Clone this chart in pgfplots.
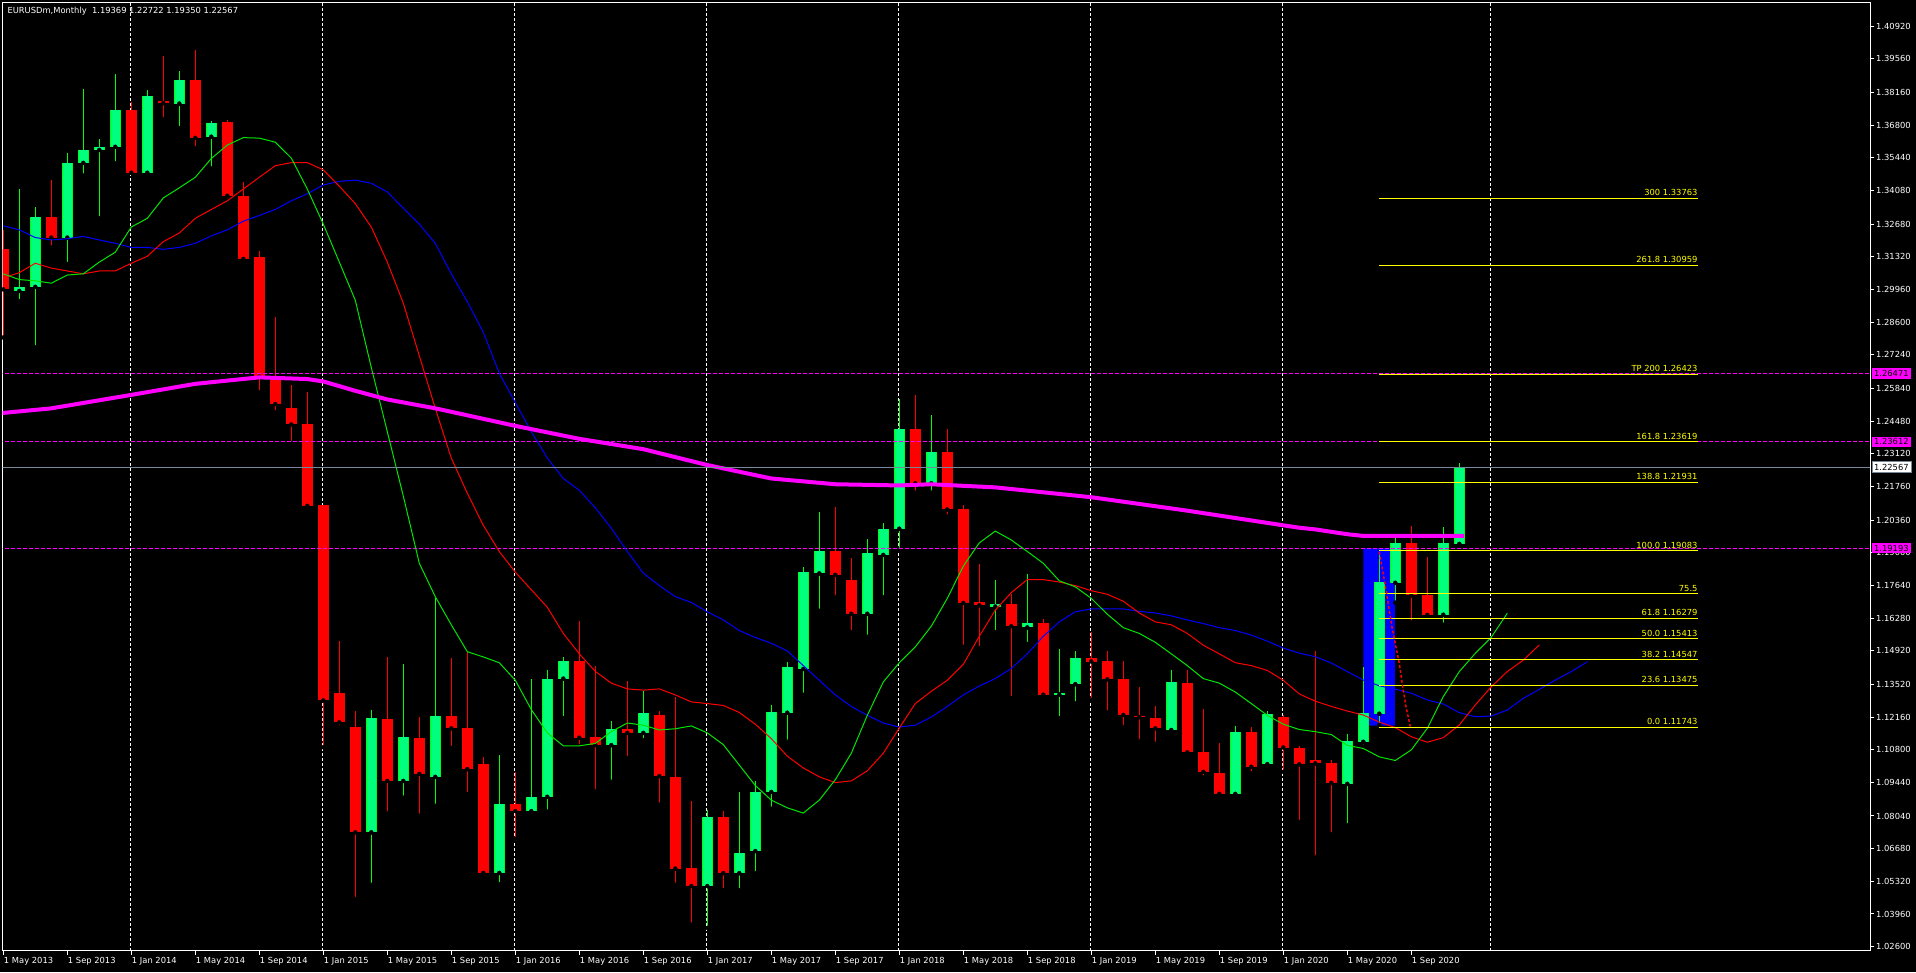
\documentclass[border=0pt]{standalone}
\usepackage{pgfplots}
\usepackage{pgfplotstable}
\pgfplotsset{compat=1.18}
\usetikzlibrary{backgrounds}
\usepackage{fontspec}
\setmainfont{DejaVu Sans}
\newcommand\lbl{\fontsize{8.35}{10}\selectfont}
\definecolor{bullbody}{RGB}{0,255,127}
\definecolor{bullline}{RGB}{0,255,0}
\definecolor{bear}{RGB}{255,0,0}
\definecolor{mag}{RGB}{255,0,255}
\definecolor{fib}{RGB}{255,255,0}
\definecolor{pricegrey}{RGB}{119,136,153}
\definecolor{lips}{RGB}{0,230,0}
\definecolor{teeth}{RGB}{255,0,0}
\definecolor{jaw}{RGB}{0,0,255}
\definecolor{rectblue}{RGB}{0,0,255}

\pgfplotstableread{
i o h l c
1 1.2990 1.3415 1.2947 1.3007
2 1.3007 1.3338 1.2755 1.3298
4 1.3212 1.3566 1.3102 1.3523
5 1.3523 1.3830 1.3470 1.3577
6 1.3577 1.3623 1.3292 1.3590
7 1.3590 1.3891 1.3521 1.3743
9 1.3482 1.3826 1.3475 1.3801
11 1.3770 1.3905 1.3667 1.3866
13 1.3632 1.3698 1.3499 1.3688
23 1.0736 1.1246 1.0517 1.1210
25 1.0950 1.1435 1.0880 1.1133
27 1.0967 1.1713 1.0846 1.1222
31 1.0567 1.1059 1.0519 1.0855
33 1.0824 1.1373 1.0822 1.0884
34 1.0884 1.1410 1.0822 1.1376
35 1.1376 1.1466 1.1211 1.1448
38 1.1099 1.1198 1.0946 1.1167
40 1.1150 1.1325 1.1119 1.1232
44 1.0512 1.0829 1.0338 1.0800
46 1.0566 1.0904 1.0494 1.0650
47 1.0658 1.0950 1.0566 1.0904
48 1.0904 1.1266 1.0834 1.1236
49 1.1234 1.1444 1.1113 1.1424
50 1.1416 1.1841 1.1308 1.1821
51 1.1814 1.2070 1.1658 1.1909
54 1.1646 1.1958 1.1550 1.1899
55 1.1891 1.2024 1.1714 1.2000
56 1.2000 1.2538 1.1912 1.2415
58 1.2189 1.2473 1.2150 1.2319
62 1.1676 1.1788 1.1569 1.1688
64 1.1589 1.1813 1.1520 1.1606
66 1.1309 1.1500 1.1211 1.1314
67 1.1353 1.1489 1.1273 1.1462
73 1.1162 1.1412 1.1159 1.1361
77 1.0896 1.1178 1.0879 1.1155
79 1.1020 1.1240 1.1004 1.1228
84 1.0938 1.1145 1.0765 1.1116
85 1.1113 1.1425 1.1093 1.1231
86 1.1230 1.1905 1.1183 1.1778
87 1.1775 1.1961 1.1692 1.1939
90 1.1642 1.2007 1.1600 1.1939
91 1.19369 1.22722 1.19350 1.22567
}\bull

\pgfplotstableread{
i o h l c
0 1.3165 1.3242 1.2796 1.2996
3 1.3298 1.3451 1.3170 1.3212
8 1.3743 1.3775 1.3482 1.3482
10 1.3782 1.3968 1.3704 1.3772
12 1.3866 1.3993 1.3584 1.3627
14 1.3693 1.3703 1.3366 1.3386
15 1.3386 1.3443 1.3123 1.3123
16 1.3130 1.3158 1.2567 1.2633
17 1.2618 1.2882 1.2485 1.2519
18 1.2502 1.2599 1.2357 1.2434
19 1.2437 1.2570 1.2095 1.2095
20 1.2100 1.2100 1.1090 1.1285
21 1.1316 1.1532 1.1172 1.1194
22 1.1176 1.1240 1.0458 1.0736
24 1.1208 1.1466 1.0814 1.0950
26 1.1128 1.1216 1.0805 1.0979
28 1.1222 1.1460 1.1087 1.1169
29 1.1169 1.1490 1.0895 1.0999
30 1.1021 1.1050 1.0555 1.0567
32 1.0855 1.0985 1.0708 1.0824
36 1.1451 1.1616 1.1094 1.1130
37 1.1133 1.1429 1.0906 1.1099
39 1.1167 1.1364 1.1045 1.1150
41 1.1223 1.1241 1.0851 1.0970
42 1.0967 1.1300 1.0517 1.0585
43 1.0589 1.0865 1.0352 1.0512
45 1.0800 1.0826 1.0494 1.0566
52 1.1909 1.2092 1.1714 1.1808
53 1.1788 1.1880 1.1569 1.1646
57 1.2415 1.2555 1.2150 1.2189
59 1.2319 1.2413 1.2051 1.2080
60 1.2080 1.2097 1.1508 1.1691
61 1.1693 1.1852 1.1503 1.1681
63 1.1688 1.1730 1.1295 1.1594
65 1.1606 1.1622 1.1297 1.1309
68 1.1462 1.1570 1.1287 1.1447
69 1.1449 1.1489 1.1234 1.1373
70 1.1373 1.1450 1.1174 1.1225
71 1.1222 1.1339 1.1115 1.1215
72 1.1213 1.1262 1.1104 1.1169
74 1.1359 1.1412 1.1062 1.1069
75 1.1069 1.1249 1.0964 1.0988
76 1.0983 1.1109 1.0884 1.0896
78 1.1155 1.1175 1.0981 1.1009
80 1.1216 1.1223 1.0988 1.1089
81 1.1087 1.1094 1.0779 1.1019
82 1.1039 1.1490 1.0631 1.1023
83 1.1025 1.1035 1.0727 1.0942
88 1.1939 1.2011 1.1609 1.1722
89 1.1724 1.1882 1.1637 1.1641
}\bear

\begin{document}
\begin{tikzpicture}[x=1pt,y=1pt]
\begin{axis}[
  scale only axis, width=1867.3pt, height=948pt,
  xmin=-0.0375, xmax=116.67, ymin=1.02431, ymax=1.41898,
  clip mode=individual,
  axis line style={white, line width=1pt},
  tick style={white, line width=1pt},
  tick align=outside,
  major tick length=4pt,
  xtick pos=bottom, ytick pos=right,
  xtick={0,4,...,88},
  xticklabels={1 May 2013,1 Sep 2013,1 Jan 2014,1 May 2014,1 Sep 2014,1 Jan 2015,1 May 2015,1 Sep 2015,1 Jan 2016,1 May 2016,1 Sep 2016,1 Jan 2017,1 May 2017,1 Sep 2017,1 Jan 2018,1 May 2018,1 Sep 2018,1 Jan 2019,1 May 2019,1 Sep 2019,1 Jan 2020,1 May 2020,1 Sep 2020},
  xticklabel style={anchor=north west, xshift=-1.5pt, text=white, font=\lbl, inner sep=2pt},
  ytick={1.40920,1.39560,1.38160,1.36800,1.35440,1.34080,1.32680,1.31320,1.29960,1.28600,1.27240,1.25840,1.24480,1.23120,1.21760,1.20360,1.19000,1.17640,1.16280,1.14920,1.13520,1.12160,1.10800,1.09440,1.08040,1.06680,1.05320,1.03960,1.02600},
  yticklabels={1.40920,1.39560,1.38160,1.36800,1.35440,1.34080,1.32680,1.31320,1.29960,1.28600,1.27240,1.25840,1.24480,1.23120,1.21760,1.20360,1.19000,1.17640,1.16280,1.14920,1.13520,1.12160,1.10800,1.09440,1.08040,1.06680,1.05320,1.03960,1.02600},
  yticklabel pos=right,
  yticklabel style={anchor=west, text=white, font=\lbl, inner sep=2pt},
  extra x ticks={7.98,19.96,31.98,43.96,55.96,67.98,79.96,92.95},
  extra x tick style={xticklabel=\empty, grid=major, major tick length=0pt, major grid style={white, line width=1pt, dash pattern=on 3pt off 2pt}},
]
% blue rectangle object
\addplot[fill=rectblue, draw=none] coordinates {(85.0,1.1180) (86.98,1.1180) (86.98,1.19183) (85.0,1.19183) (85.0,1.1180)};

% wicks
\addplot[only marks, mark=none, error bars/.cd, y dir=plus, y explicit, error mark=none, error bar style={line width=1pt, draw=bullline}]
  table[x=i, y=l, y error expr=\thisrow{h}-\thisrow{l}] {\bull};
\addplot[only marks, mark=none, error bars/.cd, y dir=plus, y explicit, error mark=none, error bar style={line width=1pt, draw=bear}]
  table[x=i, y=l, y error expr=\thisrow{h}-\thisrow{l}] {\bear};
% bodies
\addplot[only marks, mark=none, error bars/.cd, y dir=plus, y explicit, error mark=none, error bar style={line width=10.7pt, draw=bullline}]
  table[x=i, y=o, y error expr=\thisrow{c}-\thisrow{o}] {\bull};
\addplot[only marks, mark=none, error bars/.cd, y dir=plus, y explicit, error mark=none, error bar style={line width=8.7pt, draw=bullbody}]
  table[x=i, y=o, y error expr=\thisrow{c}-\thisrow{o}] {\bull};
\addplot[only marks, mark=none, error bars/.cd, y dir=plus, y explicit, error mark=none, error bar style={line width=10.7pt, draw=bear}]
  table[x=i, y=c, y error expr=\thisrow{o}-\thisrow{c}] {\bear};

% horizontal line objects
\addplot[mag, line width=1pt, dash pattern=on 4pt off 2pt] coordinates {(-1,1.26471) (120,1.26471)};
\addplot[mag, line width=1pt, dash pattern=on 4pt off 2pt] coordinates {(-1,1.23612) (120,1.23612)};
\addplot[mag, line width=1pt, dash pattern=on 4pt off 2pt] coordinates {(-1,1.19193) (120,1.19193)};

% Alligator jaw (blue)
\addplot[jaw, line width=1pt] coordinates {
(0,1.3261)(1,1.3244)(2,1.3212)(3,1.3202)(4,1.3207)(5,1.3217)(6,1.3202)(7,1.3188)(8,1.3171)(9,1.3171)
(10,1.3163)(11,1.3171)(12,1.3188)(13,1.3219)(14,1.3244)(15,1.3280)(16,1.3304)(17,1.3329)(18,1.3365)(19,1.3394)
(20,1.3431)(21,1.3446)(22,1.3451)(23,1.3438)(24,1.3402)(25,1.3334)(26,1.3268)(27,1.3188)(28,1.3061)(29,1.2945)
(30,1.2818)(31,1.2647)(32,1.2525)(33,1.2404)(34,1.2294)(35,1.2209)(36,1.2160)(37,1.2087)(38,1.2002)(39,1.1905)
(40,1.1815)(41,1.1763)(42,1.1717)(43,1.1693)(44,1.1654)(45,1.1620)(46,1.1576)(47,1.1547)(48,1.1523)(49,1.1491)
(50,1.1430)(51,1.1369)(52,1.1308)(53,1.1260)(54,1.1223)(55,1.1191)(56,1.1174)(57,1.1182)(58,1.1216)(59,1.1260)
(60,1.1308)(61,1.1345)(62,1.1376)(63,1.1418)(64,1.1479)(65,1.1552)(66,1.1612)(67,1.1654)(68,1.1666)(69,1.1666)
(70,1.1666)(71,1.1656)(72,1.1649)(73,1.1637)(74,1.1620)(75,1.1605)(76,1.1588)(77,1.1576)(78,1.1557)(79,1.1532)
(80,1.1503)(81,1.1482)(82,1.1467)(83,1.1441)(84,1.1405)(85,1.1370)(86,1.1346)(87,1.1332)(88,1.1315)(89,1.1287)
(90,1.1270)(91,1.1234)(92,1.1217)(93,1.1220)(94,1.1245)(95,1.1294)(96,1.1331)(97,1.1370)(98,1.1405)(99,1.1446)};
% Alligator teeth (red)
\addplot[teeth, line width=1pt] coordinates {
(0,1.3044)(1,1.3066)(2,1.3105)(3,1.3085)(4,1.3073)(5,1.3061)(6,1.3073)(7,1.3073)(8,1.3105)(9,1.3134)
(10,1.3195)(11,1.3231)(12,1.3292)(13,1.3329)(14,1.3365)(15,1.3414)(16,1.3463)(17,1.3511)(18,1.3524)(19,1.3524)
(20,1.3494)(21,1.3426)(22,1.3353)(23,1.3256)(24,1.3110)(25,1.2939)(26,1.2720)(27,1.2501)(28,1.2294)(29,1.2148)
(30,1.2014)(31,1.1905)(32,1.1819)(33,1.1746)(34,1.1673)(35,1.1564)(36,1.1479)(37,1.1406)(38,1.1357)(39,1.1333)
(40,1.1328)(41,1.1333)(42,1.1308)(43,1.1279)(44,1.1272)(45,1.1264)(46,1.1235)(47,1.1186)(48,1.1126)(49,1.1053)
(50,1.1004)(51,1.0967)(52,1.0943)(53,1.0950)(54,1.0992)(55,1.1065)(56,1.1170)(57,1.1272)(58,1.1323)(59,1.1369)
(60,1.1435)(61,1.1552)(62,1.1661)(63,1.1734)(64,1.1788)(65,1.1788)(66,1.1778)(67,1.1763)(68,1.1742)(69,1.1727)
(70,1.1698)(71,1.1649)(72,1.1612)(73,1.1600)(74,1.1564)(75,1.1515)(76,1.1479)(77,1.1442)(78,1.1430)(79,1.1410)
(80,1.1369)(81,1.1312)(82,1.1282)(83,1.1260)(84,1.1241)(85,1.1224)(86,1.1195)(87,1.1172)(88,1.1134)(89,1.1111)
(90,1.1130)(91,1.1183)(92,1.1266)(93,1.1342)(94,1.1405)(95,1.1453)(96,1.1516)};
% Alligator lips (green)
\addplot[lips, line width=1pt] coordinates {
(0,1.3061)(1,1.3037)(2,1.3032)(3,1.3022)(4,1.3056)(5,1.3061)(6,1.3110)(7,1.3151)(8,1.3256)(9,1.3292)
(10,1.3377)(11,1.3419)(12,1.3463)(13,1.3541)(14,1.3597)(15,1.3628)(16,1.3626)(17,1.3609)(18,1.3543)(19,1.3414)
(20,1.3268)(21,1.3110)(22,1.2951)(23,1.2671)(24,1.2404)(25,1.2136)(26,1.1856)(27,1.1717)(28,1.1600)(29,1.1488)
(30,1.1466)(31,1.1442)(32,1.1369)(33,1.1247)(34,1.1150)(35,1.1096)(36,1.1096)(37,1.1106)(38,1.1155)(39,1.1191)
(40,1.1182)(41,1.1162)(42,1.1167)(43,1.1179)(44,1.1150)(45,1.1101)(46,1.1016)(47,1.0931)(48,1.0870)(49,1.0838)
(50,1.0816)(51,1.0870)(52,1.0955)(53,1.1065)(54,1.1223)(55,1.1362)(56,1.1442)(57,1.1508)(58,1.1594)(59,1.1710)
(60,1.1844)(61,1.1941)(62,1.1990)(63,1.1953)(64,1.1905)(65,1.1856)(66,1.1783)(67,1.1758)(68,1.1710)(69,1.1644)
(70,1.1588)(71,1.1564)(72,1.1527)(73,1.1479)(74,1.1430)(75,1.1376)(76,1.1357)(77,1.1320)(78,1.1272)(79,1.1223)
(80,1.1186)(81,1.1164)(82,1.1155)(83,1.1143)(84,1.1098)(85,1.1085)(86,1.1050)(87,1.1035)(88,1.1079)(89,1.1169)
(90,1.1301)(91,1.1405)(92,1.1481)(93,1.1548)(94,1.1648)};
% long moving average (magenta)
\addplot[mag, line width=4pt] coordinates {
(-0.5,1.2480)(0,1.2482)(3,1.2501)(8,1.2557)(12,1.2603)(16,1.2630)(19,1.2623)(20,1.2613)(22,1.2574)(24,1.2538)
(27,1.2501)(29,1.2472)(32,1.2428)(36,1.2374)(40,1.2331)(44,1.2265)(48,1.2209)(52,1.2185)(56,1.2180)(58,1.2185)
(62,1.2172)(68,1.2131)(74,1.2075)(80,1.2014)(81,1.2004)(82,1.1997)(83,1.1987)(84,1.1977)(85,1.1970)(91.3,1.1970)};

% Fibonacci levels
\addplot[fib, line width=1pt] coordinates {(86,1.33763) (105.9,1.33763)};
\addplot[fib, line width=1pt] coordinates {(86,1.30959) (105.9,1.30959)};
\addplot[fib, line width=1pt] coordinates {(86,1.26423) (105.9,1.26423)};
\addplot[fib, line width=1pt] coordinates {(86,1.23619) (105.9,1.23619)};
\addplot[fib, line width=1pt] coordinates {(86,1.21931) (105.9,1.21931)};
\addplot[fib, line width=1pt] coordinates {(86,1.19083) (105.9,1.19083)};
\addplot[fib, line width=1pt] coordinates {(86,1.17285) (105.9,1.17285)};
\addplot[fib, line width=1pt] coordinates {(86,1.16279) (105.9,1.16279)};
\addplot[fib, line width=1pt] coordinates {(86,1.15413) (105.9,1.15413)};
\addplot[fib, line width=1pt] coordinates {(86,1.14547) (105.9,1.14547)};
\addplot[fib, line width=1pt] coordinates {(86,1.13475) (105.9,1.13475)};
\addplot[fib, line width=1pt] coordinates {(86,1.11743) (105.9,1.11743)};
% fib trend line
\addplot[bear, line width=1.4pt, dash pattern=on 3pt off 2pt] coordinates {
(86.0,1.1904)(86.31,1.1786)(86.52,1.1703)(86.79,1.1592)(87.04,1.1509)(87.25,1.1440)(87.46,1.1342)(87.67,1.1259)(87.94,1.1176)};
% current price line
\addplot[pricegrey, line width=1pt] coordinates {(-1,1.22567) (120,1.22567)};

\node[anchor=south east, text=fib, font=\lbl, inner sep=0pt, yshift=2.3pt] at (axis cs:105.9,1.33763) {300 1.33763};
\node[anchor=south east, text=fib, font=\lbl, inner sep=0pt, yshift=2.3pt] at (axis cs:105.9,1.30959) {261.8 1.30959};
\node[anchor=south east, text=fib, font=\lbl, inner sep=0pt, yshift=2.3pt] at (axis cs:105.9,1.26423) {TP 200 1.26423};
\node[anchor=south east, text=fib, font=\lbl, inner sep=0pt, yshift=2.3pt] at (axis cs:105.9,1.23619) {161.8 1.23619};
\node[anchor=south east, text=fib, font=\lbl, inner sep=0pt, yshift=2.3pt] at (axis cs:105.9,1.21931) {138.8 1.21931};
\node[anchor=south east, text=fib, font=\lbl, inner sep=0pt, yshift=2.3pt] at (axis cs:105.9,1.19083) {100.0 1.19083};
\node[anchor=south east, text=fib, font=\lbl, inner sep=0pt, yshift=2.3pt] at (axis cs:105.9,1.17285) {75.5};
\node[anchor=south east, text=fib, font=\lbl, inner sep=0pt, yshift=2.3pt] at (axis cs:105.9,1.16279) {61.8 1.16279};
\node[anchor=south east, text=fib, font=\lbl, inner sep=0pt, yshift=2.3pt] at (axis cs:105.9,1.15413) {50.0 1.15413};
\node[anchor=south east, text=fib, font=\lbl, inner sep=0pt, yshift=2.3pt] at (axis cs:105.9,1.14547) {38.2 1.14547};
\node[anchor=south east, text=fib, font=\lbl, inner sep=0pt, yshift=2.3pt] at (axis cs:105.9,1.13475) {23.6 1.13475};
\node[anchor=south east, text=fib, font=\lbl, inner sep=0pt, yshift=2.3pt] at (axis cs:105.9,1.11743) {0.0 1.11743};

\coordinate (b1) at (axis cs:116.67,1.26471);
\coordinate (b2) at (axis cs:116.67,1.23612);
\coordinate (b3) at (axis cs:116.67,1.19193);
\coordinate (b4) at (axis cs:116.67,1.22567);
\coordinate (tl) at (rel axis cs:0,1);
\coordinate (o) at (rel axis cs:0,0);
\end{axis}
\begin{scope}[on background layer]
\fill[black] ([xshift=-2.7pt,yshift=-21.3pt]o) rectangle ++(1916,972);
\end{scope}
\node[anchor=base west, text=white, font=\lbl, inner sep=0pt] at ([xshift=4.6pt, yshift=-11.3pt]tl) {EURUSDm,Monthly\ \ 1.19369 1.22722 1.19350 1.22567};
\node[fill=mag, text=black, anchor=west, font=\lbl, inner xsep=2.4pt, inner ysep=2.2pt] at ([xshift=1.5pt]b1) {1.26471};
\node[fill=mag, text=black, anchor=west, font=\lbl, inner xsep=2.4pt, inner ysep=2.2pt] at ([xshift=1.5pt]b2) {1.23612};
\node[fill=mag, text=black, anchor=west, font=\lbl, inner xsep=2.4pt, inner ysep=2.2pt] at ([xshift=1.5pt]b3) {1.19193};
\node[fill=white, draw=pricegrey, text=black, anchor=west, font=\lbl, inner xsep=2.4pt, inner ysep=2.2pt] at ([xshift=1.5pt]b4) {1.22567};
\pgfresetboundingbox
\path[use as bounding box] ([xshift=-2.7pt,yshift=-21.3pt]o) rectangle ++(1916,972);
\end{tikzpicture}
\end{document}
